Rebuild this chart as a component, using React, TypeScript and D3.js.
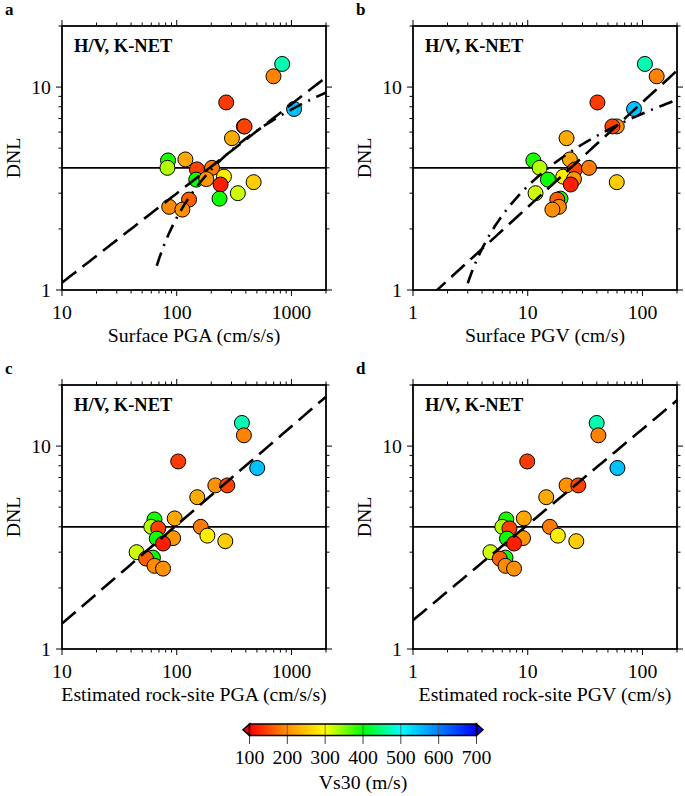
import * as d3 from "d3";

// station values, same order in every panel
const dnl = [13.0, 11.3, 8.4, 7.8, 6.4, 6.4, 5.6, 4.35, 4.4, 4.0, 3.93, 4.0, 3.62, 3.5, 3.52, 3.31, 3.4, 3.0, 2.82, 2.79, 2.57, 2.49];
const vs30 = [470, 190, 140, 550, 200, 145, 225, 390, 220, 330, 145, 185, 285, 395, 205, 120, 255, 320, 395, 165, 195, 200];
const surfacePGA = [830, 697, 270, 1054, 385, 390, 303, 84, 119, 83, 150, 203, 258, 148, 181, 241, 468, 341, 236, 128, 86, 112];
const surfacePGV = [105, 133, 40.5, 84.5, 59.7, 54.7, 21.8, 11.2, 23.3, 12.7, 25.8, 34.2, 20.4, 15.0, 25.3, 23.7, 59.7, 11.7, 19.3, 18.1, 18.7, 16.4];
const rockPGA = [370, 385, 103, 503, 217, 276, 151, 64, 96, 60, 69, 162, 185, 67, 93, 76, 265, 44.7, 62, 54, 64, 76];
const rockPGV = [39.9, 41.3, 9.9, 60.5, 21.8, 27.6, 14.5, 6.5, 9.25, 6.0, 6.93, 15.6, 18.3, 6.6, 9.1, 7.6, 26.5, 4.73, 6.4, 5.7, 6.4, 7.6];

// fits: log10(DNL) = a + b*log10(x)
const powerFitA = [-0.404, 0.44];
const powerFitB = [-0.1086, 0.517];
const powerFitC = [-0.361, 0.486];
const powerFitD = [0.1416, 0.471];
// fits: DNL = a + b*log10(x), starting at x0
const semiLogFitA = [-8.69, 5.48, 67];
const semiLogFitB = [-0.9, 4.15, 3.0];

const dnlLevel = 4;
const yDomain = [1, 20];
const pgaDomain = [10, 2000];
const pgvDomain = [1, 200];
const cbTicks = [100, 200, 300, 400, 500, 600, 700];

const colorStops = [100, 200, 300, 400, 500, 600, 700];
const colorRange = ["#ff0000", "#ff9000", "#ffff00", "#00ff00", "#00ffff", "#0080ff", "#0000ff"];
const color = d3.scaleLinear<string>().domain(colorStops).range(colorRange).clamp(true);

const FONT = "'Liberation Serif', 'Times New Roman', serif";
const FS = 19.8;
const W = 264;
const H = 264;

type PanelProps = {
  id: string;
  left: number;
  top: number;
  letter: string;
  xs: number[];
  xDomain: number[];
  xLabel: string;
  power: number[];
  semiLog?: number[];
};

function Panel({ id, left, top, letter, xs, xDomain, xLabel, power, semiLog }: PanelProps) {
  const x = d3.scaleLog().domain(xDomain).range([0, W]);
  const y = d3.scaleLog().domain(yDomain).range([H, 0]);
  const xt = x.ticks();
  const yt = y.ticks();
  const isMajor = (v: number) => Math.abs(Math.log10(v) - Math.round(Math.log10(v))) < 1e-9;

  const line = d3
    .line<number>()
    .x((v) => x(v))
    .y((v) => y(Math.pow(10, power[0] + power[1] * Math.log10(v))));
  const lx = d3.range(0, 61).map((i) => xDomain[0] * Math.pow(xDomain[1] / xDomain[0], i / 60));

  let semiPath: string | null = null;
  if (semiLog) {
    const x0 = semiLog[2];
    const sx = d3.range(0, 61).map((i) => x0 * Math.pow(xDomain[1] / x0, i / 60));
    semiPath = d3
      .line<number>()
      .x((v) => x(v))
      .y((v) => y(Math.max(0.5, semiLog[0] + semiLog[1] * Math.log10(v))))(sx);
  }

  return (
    <g transform={`translate(${left},${top})`} fontFamily={FONT}>
      <defs>
        <clipPath id={`clip-${id}`}>
          <rect x={0} y={0} width={W} height={H} />
        </clipPath>
      </defs>
      {/* ticks on all four sides */}
      {xt.map((v) => {
        const len = isMajor(v) ? 6 : 3.5;
        return (
          <g key={`x${v}`} stroke="#000" strokeWidth={1}>
            <line x1={x(v)} x2={x(v)} y1={H} y2={H + len} />
            <line x1={x(v)} x2={x(v)} y1={0} y2={-len} />
          </g>
        );
      })}
      {yt.map((v) => {
        const len = isMajor(v) ? 6 : 3.5;
        return (
          <g key={`y${v}`} stroke="#000" strokeWidth={1}>
            <line x1={0} x2={-len} y1={y(v)} y2={y(v)} />
            <line x1={W} x2={W + len} y1={y(v)} y2={y(v)} />
          </g>
        );
      })}
      <g clipPath={`url(#clip-${id})`}>
        <line x1={0} x2={W} y1={y(dnlLevel)} y2={y(dnlLevel)} stroke="#000" strokeWidth={1.6} />
        {xs.map((v, i) => (
          <circle key={i} cx={x(v)} cy={y(dnl[i])} r={7.5} fill={color(vs30[i])} stroke="#000" strokeWidth={1} />
        ))}
        <path d={line(lx) ?? ""} fill="none" stroke="#000" strokeWidth={2.6} strokeDasharray="18 8" />
        {semiPath && (
          <path d={semiPath} fill="none" stroke="#000" strokeWidth={2.6} strokeDasharray="14 7 2 7" />
        )}
      </g>
      <rect x={0} y={0} width={W} height={H} fill="none" stroke="#000" strokeWidth={1.8} />
      {xt.filter(isMajor).map((v) => (
        <text key={`xl${v}`} x={x(v)} y={H + 29} textAnchor="middle" fontSize={FS}>
          {v}
        </text>
      ))}
      {yt.filter(isMajor).map((v) => (
        <text key={`yl${v}`} x={-11} y={y(v)} dy="0.35em" textAnchor="end" fontSize={FS}>
          {v}
        </text>
      ))}
      <text x={W / 2} y={H + 52} textAnchor="middle" fontSize={FS}>
        {xLabel}
      </text>
      <text transform={`translate(-42,${H / 2}) rotate(-90)`} textAnchor="middle" fontSize={FS}>
        DNL
      </text>
      <text x={12} y={26} fontSize={18.5} fontWeight="bold">
        H/V, K-NET
      </text>
      <text x={-57} y={-11} fontSize={17} fontWeight="bold">
        {letter}
      </text>
    </g>
  );
}

function ColorBar() {
  const x0 = 249.5;
  const x1 = 476.5;
  const top = 724;
  const h = 11.5;
  const cb = d3.scaleLinear().domain([100, 700]).range([x0, x1]);
  return (
    <g fontFamily={FONT}>
      <defs>
        <linearGradient id="vsgrad" x1="0" x2="1" y1="0" y2="0">
          {colorStops.map((v, i) => (
            <stop key={v} offset={(cb(v) - x0) / (x1 - x0)} stopColor={colorRange[i]} />
          ))}
        </linearGradient>
      </defs>
      <path d={`M${x0},${top} L${x0 - 6.5},${top + h / 2} L${x0},${top + h} Z`} fill={color(100)} stroke="#000" strokeWidth={1.5} />
      <path d={`M${x1},${top} L${x1 + 6.5},${top + h / 2} L${x1},${top + h} Z`} fill={color(700)} stroke="#000" strokeWidth={1.5} />
      <rect x={x0} y={top} width={x1 - x0} height={h} fill="url(#vsgrad)" />
      {cbTicks.map((v) => (
        <g key={v}>
          <line x1={cb(v)} x2={cb(v)} y1={top} y2={top + h} stroke="#555" strokeWidth={0.8} />
          <line x1={cb(v)} x2={cb(v)} y1={top + h} y2={top + h + 8.5} stroke="#444" strokeWidth={1} />
          <text x={cb(v)} y={764} textAnchor="middle" fontSize={FS}>
            {v}
          </text>
        </g>
      ))}
      <rect x={x0} y={top} width={x1 - x0} height={h} fill="none" stroke="#000" strokeWidth={1.5} />
      <text x={(x0 + x1) / 2} y={789} textAnchor="middle" fontSize={FS}>
        Vs30 (m/s)
      </text>
    </g>
  );
}

export default function App() {
  return (
    <svg width={685} height={796} style={{ position: "absolute", left: 0, top: 0, background: "#fff" }}>
      <Panel id="a" left={62} top={26} letter="a" xs={surfacePGA} xDomain={pgaDomain} xLabel="Surface PGA (cm/s/s)" power={powerFitA} semiLog={semiLogFitA} />
      <Panel id="b" left={413} top={26} letter="b" xs={surfacePGV} xDomain={pgvDomain} xLabel="Surface PGV (cm/s)" power={powerFitB} semiLog={semiLogFitB} />
      <Panel id="c" left={62} top={385} letter="c" xs={rockPGA} xDomain={pgaDomain} xLabel="Estimated rock-site PGA (cm/s/s)" power={powerFitC} />
      <Panel id="d" left={413} top={385} letter="d" xs={rockPGV} xDomain={pgvDomain} xLabel="Estimated rock-site PGV (cm/s)" power={powerFitD} />
      <ColorBar />
    </svg>
  );
}
